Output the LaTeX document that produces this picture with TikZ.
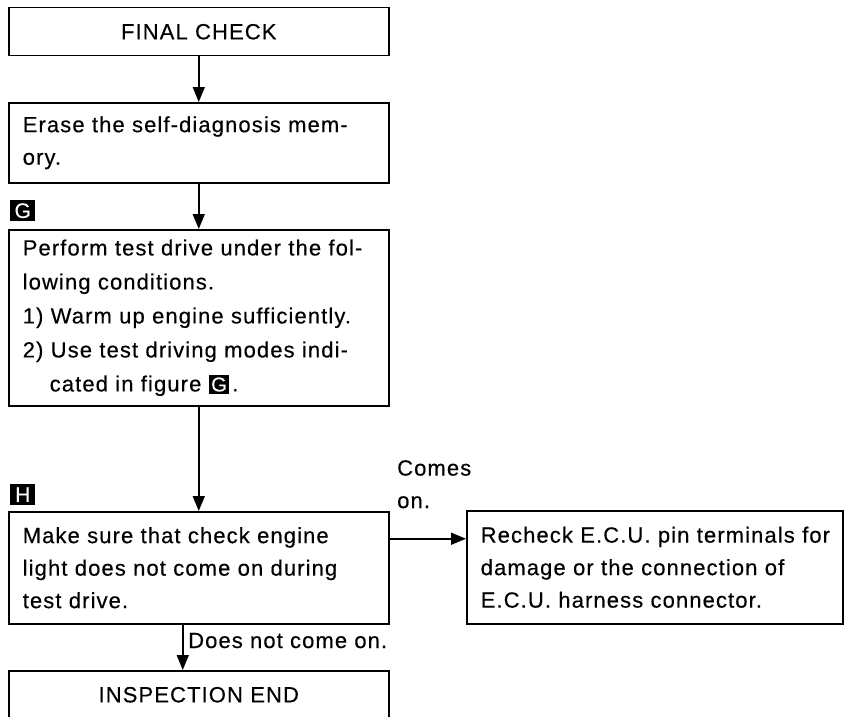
\documentclass[tikz,border=0pt]{standalone}
\usepackage{fontspec}
\setmainfont{Liberation Sans}[LetterSpace=5,FakeBold=0.4]
\usetikzlibrary{arrows.meta}
\newcommand\fsz{\fontsize{22}{32.5}\selectfont}
\newcommand\oneline[1]{\mbox{#1}}
\newcommand\gbox{{\setlength{\fboxsep}{2.5pt}\colorbox{black}{\textcolor{white}{\fontsize{20}{20}\selectfont G}}}}
\begin{document}
\begin{tikzpicture}[x=1pt,y=-1pt,
  box/.style={draw, line width=1.5pt, anchor=north west, minimum width=380pt,
    text width=352pt, inner xsep=14pt, inner ysep=0pt, align=left, font=\fsz},
  cbox/.style={box, align=center},
  tagbox/.style={fill=black, text=white, anchor=north west, minimum width=25pt,
    minimum height=21pt, inner sep=0pt, font=\fontsize{21}{21}\selectfont},
  lbl/.style={inner sep=0pt, font=\fsz, align=left},
  arr/.style={-{Triangle[length=15pt,width=12pt]}, line width=1.5pt}]
\useasboundingbox (0,0) rectangle (846,717);
\clip (0,0) rectangle (846,717);

\node[cbox, minimum height=48pt] (b1) at (8,7) {FINAL CHECK};
\node[box, minimum height=80pt] (b2) at (8,102)
  {\oneline{Erase the self-diagnosis mem-}\\ory.};
\node[tagbox] (gtag) at (10,200) {G};
\node[box, minimum height=176pt, font=\fontsize{22}{34}\selectfont] (b3) at (8,229)
  {\oneline{Perform test drive under the fol-}\\
   lowing conditions.\\
   \oneline{1) Warm up engine sufficiently.}\\
   \oneline{2) Use test driving modes indi-}\\
   \hspace*{27pt}cated in figure \gbox\hspace{3pt}.};
\node[tagbox] (htag) at (10,484) {H};
\node[box, minimum height=112pt] (b4) at (8,511)
  {\oneline{Make sure that check engine}\\
   \oneline{light does not come on during}\\
   test drive.};
\node[box, minimum width=376pt, text width=348pt, minimum height=113pt] (b5) at (466,510)
  {\oneline{Recheck E.C.U. pin terminals for}\\
   \oneline{damage or the connection of}\\
   \oneline{E.C.U. harness connector.}};
\node[cbox, minimum height=48pt] (b6) at (8,670) {INSPECTION END};

\node[lbl, anchor=north west] (comes) at (397,460) {Comes\\on.};
\node[lbl, anchor=base west] (dnc) at (188,648) {Does not come on.};

\draw[arr] (b1.south) -- (b2.north);
\draw[arr] (b2.south) -- (b3.north);
\draw[arr] (b3.south) -- (b4.north);
\draw[arr] ([yshift=29pt]b4.east) -- ([yshift=29pt]b4.east -| b5.west);
\draw[arr] ([xshift=-16pt]b4.south) -- ([xshift=-16pt]b6.north);
\end{tikzpicture}
\end{document}
